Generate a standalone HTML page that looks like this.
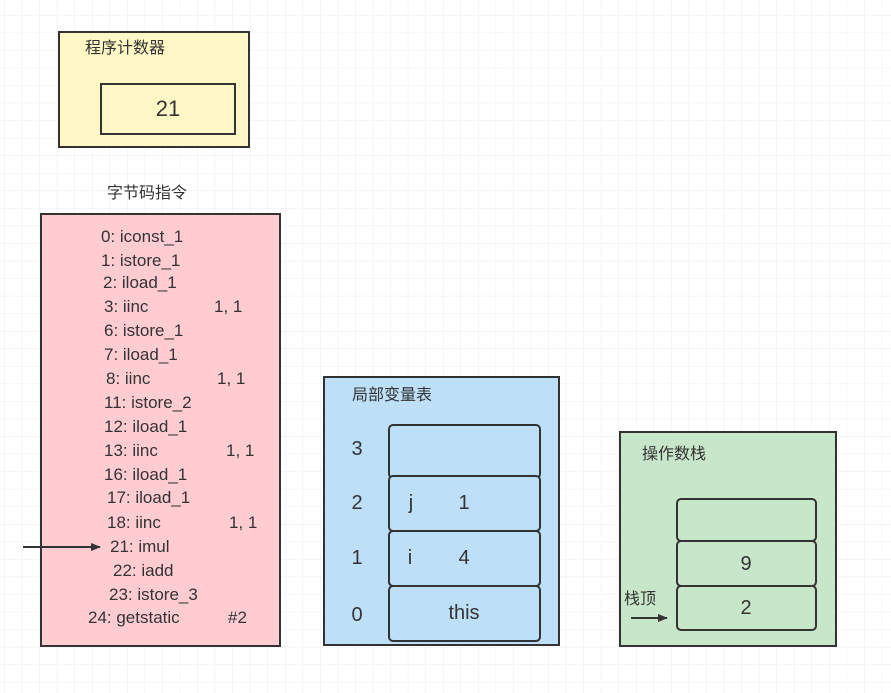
<!DOCTYPE html>
<html><head><meta charset="utf-8"><style>
html,body{margin:0;padding:0;background:#fff;}
svg{display:block;}
text{font-family:"Liberation Sans","Noto Sans CJK SC",sans-serif;fill:#333;}
</style></head><body>
<svg width="891" height="693" xmlns="http://www.w3.org/2000/svg">
<defs>
<pattern id="g" x="4.2" y="-2.5" width="17.55" height="17.55" patternUnits="userSpaceOnUse">
<path d="M0 0V17.55M0 0H17.55" stroke="#ececec" stroke-width="1" fill="none"/>
</pattern>
<marker id="ar" markerWidth="10" markerHeight="8" refX="9" refY="4" orient="auto" markerUnits="userSpaceOnUse">
<path d="M0 0L10 4L0 8z" fill="#333"/></marker>
</defs>
<rect width="891" height="693" fill="url(#g)"/>
<!-- PC -->
<rect x="59" y="32" width="190" height="115" fill="#fff8c6" stroke="#333" stroke-width="2"/>
<text x="85" y="53" font-size="16">程序计数器</text>
<rect x="101" y="84" width="134" height="50" fill="#fff8c6" stroke="#333" stroke-width="2"/>
<text x="168" y="116" font-size="22" text-anchor="middle">21</text>
<text x="107" y="198" font-size="16">字节码指令</text>
<!-- bytecode -->
<rect x="41" y="214" width="239" height="432" fill="#ffccd2" stroke="#333" stroke-width="2"/>
<g font-size="17">
<text x="101" y="242">0: iconst_1</text>
<text x="101" y="266">1: istore_1</text>
<text x="103" y="288">2: iload_1</text>
<text x="104" y="312">3: iinc</text><text x="214" y="312">1, 1</text>
<text x="104" y="336">6: istore_1</text>
<text x="104" y="360">7: iload_1</text>
<text x="106" y="384">8: iinc</text><text x="217" y="384">1, 1</text>
<text x="104" y="408">11: istore_2</text>
<text x="104" y="432">12: iload_1</text>
<text x="104" y="456">13: iinc</text><text x="226" y="456">1, 1</text>
<text x="104" y="480">16: iload_1</text>
<text x="107" y="503">17: iload_1</text>
<text x="107" y="528">18: iinc</text><text x="229" y="528">1, 1</text>
<text x="110" y="552">21: imul</text>
<text x="113" y="576">22: iadd</text>
<text x="109" y="600">23: istore_3</text>
<text x="88" y="623">24: getstatic</text><text x="228" y="623">#2</text>
</g>
<line x1="23" y1="547" x2="100" y2="547" stroke="#333" stroke-width="2" marker-end="url(#ar)"/>
<!-- local vars -->
<rect x="324" y="377" width="235" height="268" fill="#bddff8" stroke="#333" stroke-width="2"/>
<text x="352" y="400" font-size="16">局部变量表</text>
<g fill="#bddff8" stroke="#333" stroke-width="2">
<rect x="389" y="425" width="151" height="53" rx="4"/>
<rect x="389" y="476" width="151" height="55" rx="4"/>
<rect x="389" y="531" width="151" height="55" rx="4"/>
<rect x="389" y="586" width="151" height="55" rx="4"/>
</g>
<g font-size="20" text-anchor="middle">
<text x="357" y="455">3</text>
<text x="357" y="509">2</text>
<text x="357" y="564">1</text>
<text x="357" y="621">0</text>
<text x="411" y="509">j</text><text x="464" y="509">1</text>
<text x="410" y="564">i</text><text x="464" y="564">4</text>
<text x="464" y="619">this</text>
</g>
<!-- operand stack -->
<rect x="620" y="432" width="216" height="214" fill="#c8e6c9" stroke="#333" stroke-width="2"/>
<text x="642" y="459" font-size="16">操作数栈</text>
<g fill="#c8e6c9" stroke="#333" stroke-width="2">
<rect x="677" y="499" width="139" height="42" rx="4"/>
<rect x="677" y="541" width="139" height="45" rx="4"/>
<rect x="677" y="586" width="139" height="44" rx="4"/>
</g>
<g font-size="20" text-anchor="middle">
<text x="746" y="570">9</text>
<text x="746" y="614">2</text>
</g>
<text x="624" y="604" font-size="16">栈顶</text>
<line x1="631" y1="618" x2="667" y2="618" stroke="#333" stroke-width="2" marker-end="url(#ar)"/>
</svg>
</body></html>
